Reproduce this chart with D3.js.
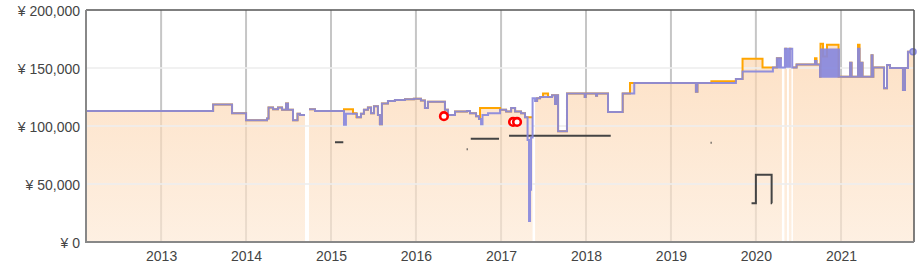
<!DOCTYPE html>
<html>
<head>
<meta charset="utf-8">
<script src="https://cdn.jsdelivr.net/npm/d3@7"></script>
<style>
  body { margin: 0; background: #fff; }
  svg { display: block; font-family: "Liberation Sans", Arial, sans-serif; }
</style>
</head>
<body>
<svg id="chart" width="922" height="279"></svg>
<script>
// price history, step values; years are decimal years, null = no offer
var yTicks = [0, 50000, 100000, 150000, 200000];
var xStart = 2012.118, xEnd = 2021.859;

var amazonYears = [2012.118, 2013.612, 2013.835, 2014.0, 2014.247, 2014.265, 2014.318, 2014.376, 2014.424, 2014.471,
  2014.494, 2014.553, 2014.606, 2014.635, 2014.694, 2014.741, 2014.812, 2015.153, 2015.259, 2015.3,
  2015.353, 2015.388, 2015.435, 2015.471, 2015.506, 2015.553, 2015.576, 2015.6, 2015.671, 2015.753,
  2015.871, 2015.976, 2016.059, 2016.106, 2016.141, 2016.341, 2016.376, 2016.459, 2016.6, 2016.635,
  2016.706, 2016.741, 2016.753, 2016.988, 2017.059, 2017.118, 2017.165, 2017.235, 2017.282, 2017.371,
  2017.4, 2017.424, 2017.459, 2017.494, 2017.553, 2017.6, 2017.635, 2017.647, 2017.671, 2017.776,
  2017.985, 2017.997, 2018.118, 2018.13, 2018.259, 2018.432, 2018.518, 2019.294, 2019.312, 2019.476,
  2019.765, 2019.843, 2020.078, 2020.247, 2020.306, 2020.335, 2020.365, 2020.388, 2020.418, 2020.435,
  2020.478, 2020.694, 2020.712, 2020.753, 2020.759, 2020.788, 2020.835, 2020.971, 2021.106, 2021.124,
  2021.2, 2021.218, 2021.241, 2021.253, 2021.359, 2021.371, 2021.38, 2021.506, 2021.541, 2021.576,
  2021.729, 2021.753, 2021.788];
var amazonPrices = [113000, 118500, 111000, 105000, 106500, 116000, 114500, 116000, 114000, 119500,
  114000, 105000, 110500, 109500, null, 114500, 113000, 114500, 111000, 107500,
  110500, 114000, 116000, 111000, 117000, 109500, 101500, 119500, 121500, 122500,
  123000, 123500, 122000, 115500, 121000, 114000, 109500, 112500, 113000, 111000,
  108500, 106000, 115500, 114000, 112500, 115500, 112500, 111000, 107500, null,
  121500, 124000, 125000, 128000, 125000, 126500, 119000, 126500, 95500, 128000,
  125000, 128000, 126000, 128000, 112000, 128000, 137000, 129500, 137000, 138500,
  140500, 158000, 150500, 158500, null, 166500, null, 166500, null, 150500,
  153000, 158500, 153000, 142500, 171000, 160000, 170000, 142500, 154500, 142500,
  170000, 142500, 154500, 142500, 161000, 142500, 150500, 132500, 152500, 150000,
  131000, 150000, 164000];

var newYears = [2012.118, 2013.612, 2013.835, 2014.0, 2014.247, 2014.265, 2014.318, 2014.376, 2014.424, 2014.471,
  2014.494, 2014.553, 2014.606, 2014.635, 2014.694, 2014.741, 2014.812, 2015.153, 2015.176, 2015.306,
  2015.353, 2015.388, 2015.435, 2015.471, 2015.506, 2015.553, 2015.576, 2015.6, 2015.671, 2015.753,
  2015.871, 2015.976, 2016.059, 2016.106, 2016.141, 2016.341, 2016.376, 2016.459, 2016.6, 2016.635,
  2016.706, 2016.741, 2016.765, 2016.782, 2016.847, 2016.988, 2017.059, 2017.118, 2017.165, 2017.235,
  2017.282, 2017.312, 2017.329, 2017.341, 2017.353, 2017.371, 2017.4, 2017.424, 2017.459, 2017.6,
  2017.635, 2017.647, 2017.671, 2017.776, 2017.985, 2017.997, 2018.118, 2018.13, 2018.259, 2018.432,
  2018.568, 2019.294, 2019.312, 2019.765, 2019.843, 2020.2, 2020.247, 2020.265, 2020.282, 2020.294,
  2020.341, 2020.359, 2020.371, 2020.388, 2020.4, 2020.427, 2020.478, 2020.694, 2020.712, 2020.753,
  2020.765, 2020.788, 2020.806, 2020.824, 2020.835, 2020.853, 2020.865, 2020.882, 2020.894, 2020.912,
  2020.924, 2020.941, 2020.953, 2020.976, 2021.106, 2021.124, 2021.2, 2021.218, 2021.241, 2021.253,
  2021.359, 2021.371, 2021.38, 2021.506, 2021.541, 2021.576, 2021.729, 2021.753, 2021.788];
var newPrices = [113000, 118500, 111000, 105000, 106500, 116000, 114500, 116000, 114000, 119500,
  114000, 105000, 110500, 109500, null, 114500, 113000, 101000, 110500, 107500,
  110500, 114000, 116000, 111000, 117000, 109500, 101500, 119500, 121500, 122500,
  123000, 123500, 122000, 115500, 121000, 114000, 109500, 112500, 113000, 111000,
  108500, 106000, 101500, 109500, 111000, 114000, 112500, 115500, 112500, 111000,
  107500, 88000, 18000, 45000, 90000, 124000, 121500, 124000, 125000, 126500,
  119000, 126500, 95500, 128000, 125000, 128000, 126000, 128000, 112000, 128000,
  137000, 129500, 137000, 140500, 147000, 150500, 158500, 150500, 158500, 150500,
  166500, 151000, 166500, 151000, 166500, 150500, 153000, 156000, 153000, 142500,
  166000, 142500, 166000, 142500, 166000, 142500, 166000, 142500, 166000, 142500,
  166000, 142500, 166000, 142500, 154500, 142500, 166500, 142500, 154500, 142500,
  161000, 142500, 150500, 132500, 152500, 150000, 131000, 150000, 164000];

var usedYears = [2015.047, 2015.145, 2016.596, 2016.608, 2016.644, 2016.976, 2017.094, 2018.291,
  2019.467, 2019.479, 2019.949, 2020.0, 2020.185, 2020.19];
var usedPrices = [86000, null, 80000, null, 89000, null, 91500, null,
  85500, null, 33500, 58000, 33500, null];

var dealYears = [2016.329, 2017.141, 2017.188];
var dealPrices = [108500, 103500, 103500];

var svg = d3.select('#chart'),
  plotLeft = 86, plotRight = 914, plotTop = 10, plotBottom = 242;

function toDate(yr) {
  var yy = Math.floor(yr),
    a = Date.UTC(yy, 0, 1),
    b = Date.UTC(yy + 1, 0, 1);
  return new Date(a + (yr - yy) * (b - a));
}

// expand [x, v] pairs into explicit step vertices
function steps(xs, vs) {
  var pts = [];
  xs.forEach(function(t, i) {
    var t2 = i + 1 < xs.length ? xs[i + 1] : xEnd;
    pts.push({ t: toDate(t), v: vs[i] });
    pts.push({ t: toDate(t2), v: vs[i] });
  });
  return pts;
}

var x = d3.scaleUtc()
  .domain([toDate(xStart), toDate(xEnd)])
  .range([plotLeft, plotRight]);
var y = d3.scaleLinear()
  .domain([0, 200000])
  .range([plotBottom, plotTop]);

var defs = svg.append('defs');
var grad = defs.append('linearGradient')
  .attr('id', 'fillGrad')
  .attr('gradientUnits', 'userSpaceOnUse')
  .attr('x1', 0).attr('x2', 0)
  .attr('y1', 60).attr('y2', plotBottom);
grad.append('stop').attr('offset', 0).attr('stop-color', '#fcd3ab');
grad.append('stop').attr('offset', 1).attr('stop-color', '#fde8d3');

// vertical grid
svg.append('g')
  .selectAll('line')
  .data(x.ticks(d3.utcYear.every(1)))
  .enter()
  .append('line')
  .attr('x1', function(d) { return x(d); })
  .attr('x2', function(d) { return x(d); })
  .attr('y1', plotTop)
  .attr('y2', plotBottom)
  .style('stroke', '#c6c6c6')
  .style('stroke-width', 2);

var line = d3.line()
  .defined(function(d) { return d.v != null; })
  .x(function(d) { return x(d.t); })
  .y(function(d) { return y(d.v); });
var area = d3.area()
  .defined(function(d) { return d.v != null; })
  .x(function(d) { return x(d.t); })
  .y0(plotBottom)
  .y1(function(d) { return y(d.v); });

var amazon = steps(amazonYears, amazonPrices);

svg.append('path')
  .attr('d', area(amazon))
  .style('fill', 'url(#fillGrad)')
  .style('fill-opacity', 0.66);

// horizontal grid
svg.append('g')
  .selectAll('line')
  .data(yTicks.slice(1, -1))
  .enter()
  .append('line')
  .attr('x1', plotLeft)
  .attr('x2', plotRight)
  .attr('y1', function(d) { return y(d); })
  .attr('y2', function(d) { return y(d); })
  .style('stroke', '#eeeeee')
  .style('stroke-opacity', 0.8)
  .style('stroke-width', 2);

svg.append('path')
  .attr('d', line(amazon))
  .style('fill', 'none')
  .style('stroke', '#ffa500')
  .style('stroke-width', 2);

svg.append('path')
  .attr('d', line(steps(usedYears, usedPrices)))
  .style('fill', 'none')
  .style('stroke', '#444')
  .style('stroke-width', 2);

svg.append('path')
  .attr('d', line(steps(newYears, newPrices)))
  .style('fill', 'none')
  .style('stroke', '#8888dd')
  .style('stroke-opacity', 0.92)
  .style('stroke-width', 2);

svg.append('circle')
  .attr('cx', x(toDate(xEnd)) - 1)
  .attr('cy', y(newPrices[newPrices.length - 1]))
  .attr('r', 3)
  .style('fill', '#a9a9e6')
  .style('stroke', '#8888dd')
  .style('stroke-width', 1.5);

svg.append('g')
  .selectAll('circle')
  .data(dealYears)
  .enter()
  .append('circle')
  .attr('cx', function(d) { return x(toDate(d)); })
  .attr('cy', function(d, i) { return y(dealPrices[i]); })
  .attr('r', 3.8)
  .style('fill', '#fff')
  .style('stroke', '#ff0000')
  .style('stroke-width', 2.6);

// frame
svg.append('line').attr('x1', plotLeft).attr('x2', plotRight).attr('y1', plotTop).attr('y2', plotTop)
  .style('stroke', '#555').style('stroke-width', 1.5);
svg.append('line').attr('x1', plotRight).attr('x2', plotRight).attr('y1', plotTop).attr('y2', plotBottom)
  .style('stroke', '#555').style('stroke-width', 1.5);
svg.append('line').attr('x1', plotLeft).attr('x2', plotLeft).attr('y1', plotTop).attr('y2', plotBottom + 1)
  .style('stroke', '#888').style('stroke-width', 2);
svg.append('line').attr('x1', plotLeft).attr('x2', plotRight).attr('y1', plotBottom).attr('y2', plotBottom)
  .style('stroke', '#888').style('stroke-width', 2);

var yAxis = svg.append('g')
  .attr('transform', 'translate(' + plotLeft + ',0)')
  .call(d3.axisLeft(y)
    .tickValues(yTicks)
    .tickSize(0)
    .tickPadding(6)
    .tickFormat(function(d) { return '¥ ' + d3.format(',')(d); }));
var xAxis = svg.append('g')
  .attr('transform', 'translate(0,' + plotBottom + ')')
  .call(d3.axisBottom(x)
    .ticks(d3.utcYear.every(1))
    .tickSize(0)
    .tickPadding(9)
    .tickFormat(d3.utcFormat('%Y')));

[yAxis, xAxis].forEach(function(g) {
  g.select('.domain').remove();
  g.selectAll('text')
    .style('font-size', '14px')
    .style('font-family', '"Liberation Sans", Arial, sans-serif')
    .style('fill', '#444');
});
yAxis.selectAll('text').attr('dy', '0.4em');
</script>
</body>
</html>
